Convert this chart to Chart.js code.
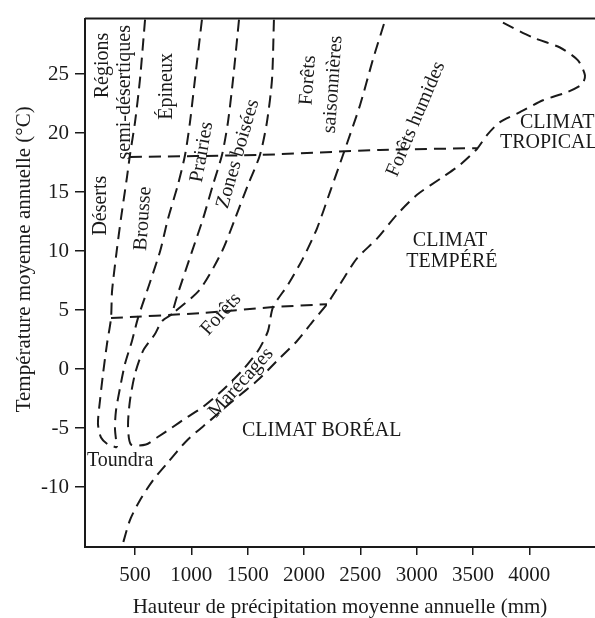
<!DOCTYPE html>
<html><head><meta charset="utf-8">
<script src="https://cdn.jsdelivr.net/npm/chart.js@4.4.1/dist/chart.umd.min.js"></script>
<style>html,body{margin:0;padding:0;background:#fff}</style>
</head><body>
<canvas id="c" width="595" height="618"></canvas>
<script>
// ---- axis ranges & ticks ----
const xRange = [56, 4583];
const yRange = [-15.08, 29.70];
const xTicks = [500, 1000, 1500, 2000, 2500, 3000, 3500, 4000];
const yTicks = [-10, -5, 0, 5, 10, 15, 20, 25];
const xTitle = 'Hauteur de précipitation moyenne annuelle (mm)';
const yTitle = 'Température moyenne annuelle (°C)';

// ---- boundary curves [precipitation mm, temperature °C] ----
const boundaryDeserts = [[589,29.61],[544,24.55],[500,20.93],[455,18.14],[429,16.29],[375,12.75],[337,9.97],[296,6.59],[287,4.32],[251,2.12],[216,-0.40],[189,-2.68],[171,-4.62],[198,-5.80],[260,-6.39],[340,-6.64]];
const boundaryBrousse = [[1094,29.61],[1032,24.55],[988,20.93],[944,18.14],[881,15.62],[793,12.75],[722,9.97],[606,6.59],[526,4.32],[473,2.38],[411,0.44],[367,-1.59],[331,-3.52],[322,-5.04],[340,-6.64]];
const boundaryPrairies = [[1423,29.61],[1370,24.55],[1325,20.93],[1272,18.14],[1192,15.62],[1104,12.75],[1006,9.97],[873,6.17],[828,4.65]];
const boundaryBois = [[1733,29.61],[1716,24.55],[1671,20.93],[1609,18.14],[1503,15.62],[1388,12.75],[1272,9.97],[1077,6.76],[828,4.65]];
const boundaryForets = [[828,4.65],[739,4.06],[677,2.97],[571,1.54],[500,-0.40],[455,-2.68],[438,-4.79],[464,-6.39],[597,-6.39],[695,-5.80],[828,-4.96],[944,-4.20],[1094,-3.27],[1272,-1.84],[1449,-0.15],[1591,1.53],[1680,3.22],[1725,5.25],[1860,7.18],[1991,9.38],[2115,11.91],[2231,15.02],[2346,18.14],[2497,22.36],[2612,26.24],[2719,29.53]];
const boundaryClimats = [[3766,29.36],[4032,28.09],[4272,27.25],[4432,26.16],[4494,24.89],[4467,24.13],[4334,23.46],[4121,22.78],[3917,21.77],[3739,20.93],[3624,19.83],[3535,18.65],[3384,17.30],[3234,16.29],[3003,14.77],[2825,13.09],[2648,11.06],[2470,9.38],[2319,7.18],[2204,5.50],[2080,4.06],[1938,2.38],[1760,0.69],[1583,-1.00],[1370,-2.68],[1165,-4.37],[961,-6.05],[784,-8.00],[659,-9.43],[544,-11.11],[455,-12.80],[384,-15.08]];
const line18 = [[456,17.98],[1609,18.15],[2674,18.57],[3535,18.72]];
const line4 = [[287,4.32],[1077,4.74],[1725,5.25],[2204,5.50]];

// ---- region labels: text, anchor (mm, °C), rotation (deg) ----
const labelTexts = ['Régions','semi-désertiques','Épineux','Déserts','Brousse','Prairies','Zones boisées','Forêts','saisonnières','Forêts humides','CLIMAT','TROPICAL','CLIMAT','TEMPÉRÉ','CLIMAT BORÉAL','Toundra','Forêts','Marécages'];
const labelX = [216,411,784,198,571,1094,1414,2035,2257,2994,3917,3739,3296,3313,1449,74,1263,1441];
const labelY = [25.73,23.46,23.96,13.85,12.75,18.40,18.23,24.47,24.13,21.18,20.89,19.20,10.85,9.08,-5.21,-7.74,4.65,-1.16];
const labelRot = [-90,-90,-90,-90,-86,-80,-74,-86,-86,-67,0,0,0,0,0,0,-48,-48];
const labelAlign = ['center','center','center','center','center','center','center','center','center','center','left','left','center','center','left','left','center','center'];

const curves = [boundaryDeserts, boundaryBrousse, boundaryPrairies, boundaryBois, boundaryForets, boundaryClimats, line18, line4];
const INK = '#1a1a1a';
const SERIF = '"Liberation Serif", "Times New Roman", serif';

const annot = {
  id: 'annot',
  afterDraw(chart) {
    const {ctx, chartArea: a, scales: {x, y}} = chart;
    ctx.save();
    ctx.strokeStyle = INK; ctx.lineWidth = 2;
    ctx.beginPath(); ctx.moveTo(a.left, a.top); ctx.lineTo(a.right, a.top); ctx.stroke();
    ctx.fillStyle = INK;
    ctx.font = '20px ' + SERIF;
    labelTexts.forEach((t, i) => {
      ctx.save();
      ctx.translate(x.getPixelForValue(labelX[i]), y.getPixelForValue(labelY[i]));
      ctx.rotate(labelRot[i] * Math.PI / 180);
      ctx.textAlign = labelAlign[i]; ctx.textBaseline = 'middle';
      ctx.fillText(t, 0, 0);
      ctx.restore();
    });
    ctx.save();
    ctx.font = '21px ' + SERIF;
    ctx.translate(24, y.getPixelForValue(9.3));
    ctx.rotate(-Math.PI / 2);
    ctx.textAlign = 'center'; ctx.textBaseline = 'middle';
    ctx.fillText(yTitle, 0, 0);
    ctx.restore();
    ctx.restore();
  }
};

new Chart(document.getElementById('c'), {
  type: 'scatter',
  data: {
    datasets: curves.map((c, i) => ({
      label: 'c' + i,
      data: c.map(([px, py]) => ({x: px, y: py})),
      showLine: true, pointRadius: 0, borderColor: INK, borderWidth: 2,
      borderDash: [12, 7], tension: 0.25, fill: false
    }))
  },
  options: {
    responsive: false, animation: false,
    layout: {padding: {top: 16, left: 0, right: 0, bottom: 0}},
    plugins: {legend: {display: false}, tooltip: {enabled: false}},
    scales: {
      x: {
        type: 'linear', min: xRange[0], max: xRange[1],
        afterBuildTicks: s => { s.ticks = xTicks.map(v => ({value: v})); },
        afterFit: s => { s.height = 71; },
        grid: {display: true, drawOnChartArea: false, drawTicks: true, tickLength: 8, color: INK, lineWidth: 1.5},
        border: {display: true, color: INK, width: 2},
        ticks: {font: {family: SERIF, size: 21}, color: INK, padding: 8, maxRotation: 0, autoSkip: false, callback: v => String(v)},
        title: {display: true, text: xTitle, font: {family: SERIF, size: 21, lineHeight: 1}, color: INK, padding: {top: 0, bottom: 0}}
      },
      y: {
        type: 'linear', min: yRange[0], max: yRange[1],
        afterBuildTicks: s => { s.ticks = yTicks.map(v => ({value: v})); },
        afterFit: s => { s.width = 85; },
        grid: {display: true, drawOnChartArea: false, drawTicks: true, tickLength: 10, color: INK, lineWidth: 1.5},
        border: {display: true, color: INK, width: 2},
        ticks: {font: {family: SERIF, size: 21}, color: INK, padding: 6, autoSkip: false, callback: v => String(v)},
        title: {display: false}
      }
    }
  },
  plugins: [annot]
});
</script>
</body></html>
